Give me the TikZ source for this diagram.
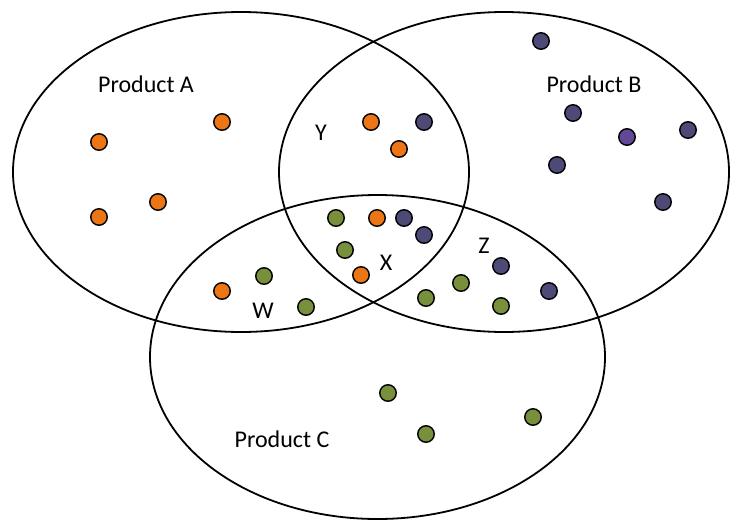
\documentclass[tikz,border=0pt]{standalone}
\usepackage{fontspec}
\setmainfont{Carlito}
\definecolor{dorange}{RGB}{236,118,22}
\definecolor{dpurple}{RGB}{78,74,120}
\definecolor{lpurple}{RGB}{98,72,150}
\definecolor{dgreen}{RGB}{120,144,60}
\begin{document}
\begin{tikzpicture}[x=1pt,y=-1pt,
  ring/.style={draw=black,line width=1.8pt},
  dot/.style={circle,draw=black,line width=1.4pt,minimum size=16.5pt,inner sep=0pt},
  od/.style={dot,fill=dorange},
  pd/.style={dot,fill=dpurple},
  lpd/.style={dot,fill=lpurple},
  gd/.style={dot,fill=dgreen},
  lbl/.style={font=\fontsize{24}{28}\selectfont,inner sep=0pt}]
\useasboundingbox (0,0) rectangle (730,522);
\fill[white] (0,0) rectangle (730,522);
% sets
\draw[ring] (241,172) ellipse [x radius=228, y radius=160];
\draw[ring] (504,172) ellipse [x radius=225, y radius=160];
\draw[ring] (377.5,357) ellipse [x radius=227.5, y radius=162];
% labels
\node[lbl] (la) at (146,84) {Product A};
\node[lbl] (lb) at (594,84) {Product B};
\node[lbl] (lc) at (282,439) {Product C};
\node[lbl] (ly) at (321,133) {Y};
\node[lbl] (lx) at (386,263) {X};
\node[lbl] (lw) at (263,311) {W};
\node[lbl] (lz) at (484,246) {Z};
% A only
\node[od] (a1) at (99,142) {};
\node[od] (a2) at (222,122) {};
\node[od] (a3) at (99,217) {};
\node[od] (a4) at (158,202) {};
% Y
\node[od] (y1) at (371,122) {};
\node[pd] (y2) at (424,122) {};
\node[od] (y3) at (399,149) {};
% X
\node[gd] (x1) at (336,218) {};
\node[od] (x2) at (377,218) {};
\node[pd] (x3) at (404,218) {};
\node[pd] (x4) at (424,235) {};
\node[gd] (x5) at (345,250) {};
\node[od] (x6) at (361,275) {};
% W
\node[od] (w1) at (222,291) {};
\node[gd] (w2) at (264,276) {};
\node[gd] (w3) at (306,307) {};
% Z
\node[pd] (z1) at (501,266) {};
\node[gd] (z2) at (461,283) {};
\node[gd] (z3) at (426,298) {};
\node[gd] (z4) at (501,306) {};
\node[pd] (z5) at (549,291) {};
% B only
\node[pd] (b1) at (541,41) {};
\node[pd] (b2) at (573,113) {};
\node[lpd] (b3) at (627,137) {};
\node[pd] (b4) at (688,130) {};
\node[pd] (b5) at (557,165) {};
\node[pd] (b6) at (663,202) {};
% C only
\node[gd] (c1) at (388,393) {};
\node[gd] (c2) at (426,434) {};
\node[gd] (c3) at (533,417) {};
\end{tikzpicture}
\end{document}
